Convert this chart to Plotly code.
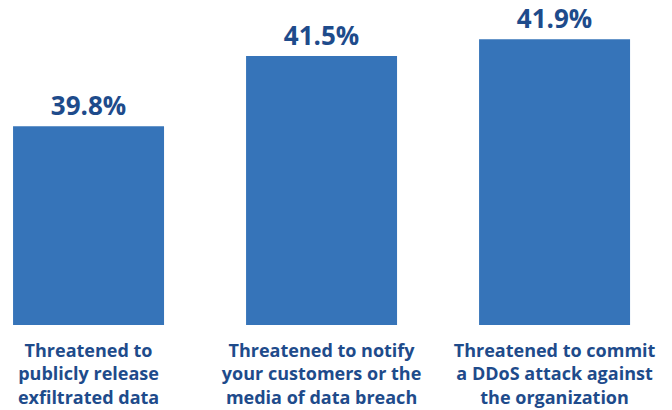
import plotly.graph_objects as go

categories = [
    "Threatened to<br>publicly release<br>exfiltrated data",
    "Threatened to notify<br>your customers or the<br>media of data breach",
    "Threatened to commit<br>a DDoS attack against<br>the organization",
]
values = [39.8, 41.5, 41.9]
labels = ["39.8%", "41.5%", "41.9%"]

bar_color = "#3674B9"
text_color = "#1E4B8B"

fig = go.Figure(
    go.Bar(
        x=categories,
        y=values,
        text=labels,
        textposition="outside",
        textfont=dict(family="Open Sans", size=26, color=text_color, weight="bold"),
        marker=dict(color=bar_color, line=dict(width=0)),
        cliponaxis=False,
    )
)

fig.update_layout(
    width=672,
    height=410,
    margin=dict(l=0, r=0, t=0, b=85),
    paper_bgcolor="white",
    plot_bgcolor="white",
    bargap=0.352,
    showlegend=False,
    xaxis=dict(
        range=[-0.38, 2.504],
        showgrid=False,
        showline=False,
        zeroline=False,
        ticks="",
        automargin=False,
        ticklabelstandoff=13,
        tickfont=dict(family="Open Sans", size=18, color=text_color, weight="bold"),
    ),
    yaxis=dict(
        range=[35, 42.85],
        visible=False,
        showgrid=False,
        zeroline=False,
    ),
)

fig.write_html(
    "out.html",
    config={"displayModeBar": False},
    post_script="document.body.style.margin='0';document.body.style.overflow='hidden';",
)
